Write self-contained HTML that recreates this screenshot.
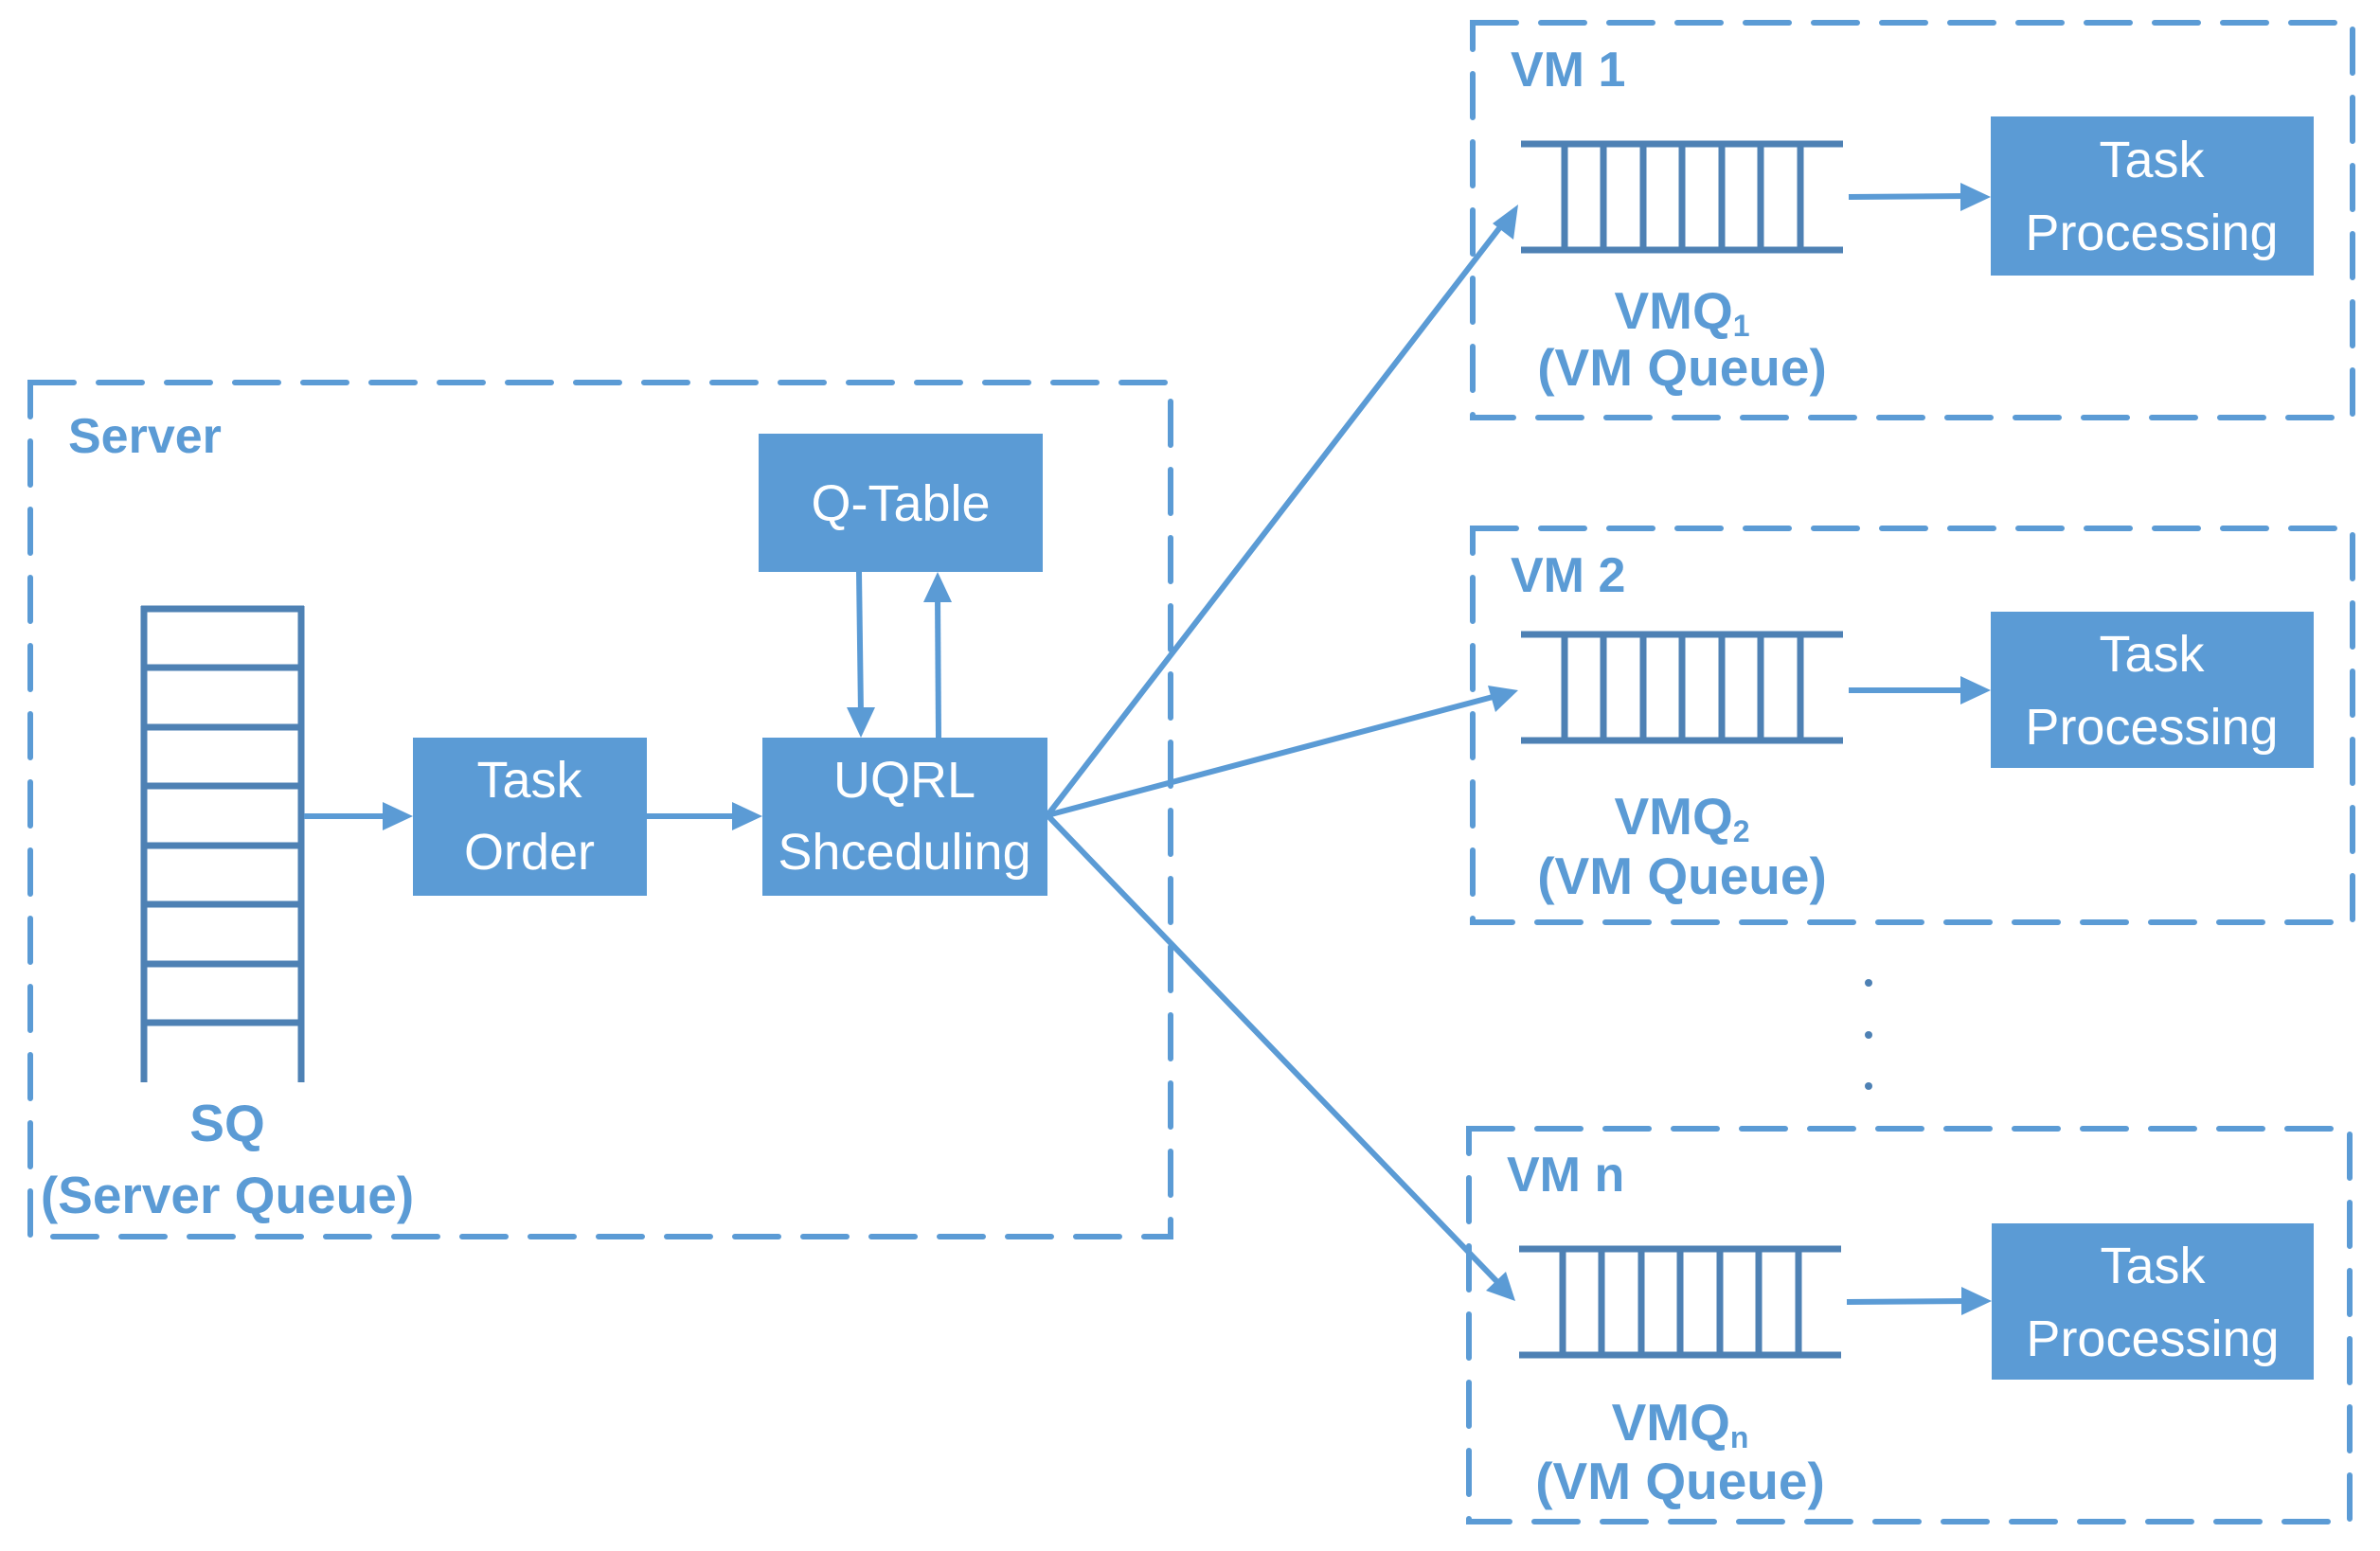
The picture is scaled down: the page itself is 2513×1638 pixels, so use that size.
<!DOCTYPE html>
<html><head><meta charset="utf-8"><style>
html,body{margin:0;padding:0;background:#fff;}
svg{display:block;}
text{font-family:"Liberation Sans",sans-serif;}
.lbl{fill:#5b9bd5;font-weight:bold;font-size:52px;}
.bt{fill:#fff;font-size:54px;text-anchor:middle;}
.ql{fill:#5b9bd5;font-weight:bold;font-size:55px;text-anchor:middle;}
</style></head><body>
<svg width="2513" height="1638" viewBox="0 0 2513 1638" xmlns="http://www.w3.org/2000/svg">
<g fill="none" stroke="#5b9bd5" stroke-width="6" stroke-dasharray="46 26" stroke-linecap="round">
<rect x="32" y="404" width="1204" height="902"/>
<rect x="1555" y="24" width="929" height="417"/>
<rect x="1555" y="558" width="929" height="416"/>
<rect x="1551" y="1192" width="930" height="415"/>
</g>
<text class="lbl" x="72" y="478">Server</text>
<text class="lbl" x="1595" y="91">VM 1</text>
<text class="lbl" x="1595" y="625">VM 2</text>
<text class="lbl" x="1591" y="1258">VM n</text>

<g stroke="#4e81b4" stroke-width="7" fill="none">
<line x1="152" y1="640" x2="152" y2="1143"/>
<line x1="318" y1="640" x2="318" y2="1143"/>
<line x1="149" y1="643" x2="321" y2="643"/>
<line x1="149" y1="705" x2="321" y2="705"/>
<line x1="149" y1="768" x2="321" y2="768"/>
<line x1="149" y1="830" x2="321" y2="830"/>
<line x1="149" y1="893" x2="321" y2="893"/>
<line x1="149" y1="955" x2="321" y2="955"/>
<line x1="149" y1="1018" x2="321" y2="1018"/>
<line x1="149" y1="1080" x2="321" y2="1080"/>
</g>
<text class="ql" x="240" y="1205">SQ</text>
<text class="ql" x="240" y="1281">(Server Queue)</text>

<g fill="#5b9bd5">
<rect x="801" y="458" width="300" height="146"/>
<rect x="436" y="779" width="247" height="167"/>
<rect x="805" y="779" width="301" height="167"/>
<rect x="2102" y="123" width="341" height="168"/>
<rect x="2102" y="646" width="341" height="165"/>
<rect x="2103" y="1292" width="340" height="165"/>
</g>
<text class="bt" x="951" y="550">Q-Table</text>
<text class="bt" x="559" y="842">Task</text>
<text class="bt" x="559" y="918">Order</text>
<text class="bt" x="955" y="842">UQRL</text>
<text class="bt" x="955" y="918">Shceduling</text>
<text class="bt" x="2272" y="187">Task</text>
<text class="bt" x="2272" y="264">Processing</text>
<text class="bt" x="2272" y="709">Task</text>
<text class="bt" x="2272" y="786">Processing</text>
<text class="bt" x="2273" y="1355">Task</text>
<text class="bt" x="2273" y="1432">Processing</text>

<g stroke="#4e81b4" stroke-width="7" fill="none">
<g id="q1">
<line x1="1606" y1="152" x2="1946" y2="152"/>
<line x1="1606" y1="264" x2="1946" y2="264"/>
<line x1="1652" y1="152" x2="1652" y2="264"/><line x1="1693" y1="152" x2="1693" y2="264"/><line x1="1735" y1="152" x2="1735" y2="264"/><line x1="1776" y1="152" x2="1776" y2="264"/><line x1="1818" y1="152" x2="1818" y2="264"/><line x1="1859" y1="152" x2="1859" y2="264"/><line x1="1901" y1="152" x2="1901" y2="264"/>
</g>
<use href="#q1" transform="translate(0,518)"/>
<use href="#q1" transform="translate(-2,1167)"/>
</g>
<text class="ql" x="1776" y="347">VMQ<tspan font-size="32" dy="8">1</tspan></text>
<text class="ql" x="1776" y="407">(VM Queue)</text>
<text class="ql" x="1776" y="881">VMQ<tspan font-size="32" dy="8">2</tspan></text>
<text class="ql" x="1776" y="944">(VM Queue)</text>
<text class="ql" x="1774" y="1521">VMQ<tspan font-size="32" dy="8">n</tspan></text>
<text class="ql" x="1774" y="1583">(VM Queue)</text>
<g fill="#4e81b4"><circle cx="1973" cy="1038" r="4"/><circle cx="1973" cy="1093" r="4"/><circle cx="1973" cy="1147" r="4"/></g>

<g stroke="#5b9bd5" stroke-width="6" fill="none">
<line x1="321" y1="862" x2="410" y2="862"/>
<line x1="683" y1="862" x2="780" y2="862"/>
<line x1="907" y1="604" x2="909" y2="755"/>
<line x1="991" y1="779" x2="990" y2="628"/>
<line x1="1106" y1="861" x2="1590" y2="232"/>
<line x1="1106" y1="861" x2="1580" y2="735"/>
<line x1="1106" y1="861" x2="1585" y2="1358"/>
<line x1="1952" y1="208" x2="2078" y2="207"/>
<line x1="1952" y1="729" x2="2078" y2="729"/>
<line x1="1950" y1="1375" x2="2078" y2="1374"/>
</g>
<g fill="#5b9bd5">
<polygon points="436,862 404,847 404,877"/>
<polygon points="805,862 773,847 773,877"/>
<polygon points="909,779 894,747 924,747"/>
<polygon points="990,604 975,636 1005,636"/>
<polygon points="1603,216 1576,236 1598,253"/>
<polygon points="1603,729 1571,724 1579,752"/>
<polygon points="1600,1374 1590,1343 1569,1363"/>
<polygon points="2102,208 2070,193 2070,223"/>
<polygon points="2102,729 2070,714 2070,744"/>
<polygon points="2103,1374 2071,1359 2071,1389"/>
</g>
</svg>
</body></html>
